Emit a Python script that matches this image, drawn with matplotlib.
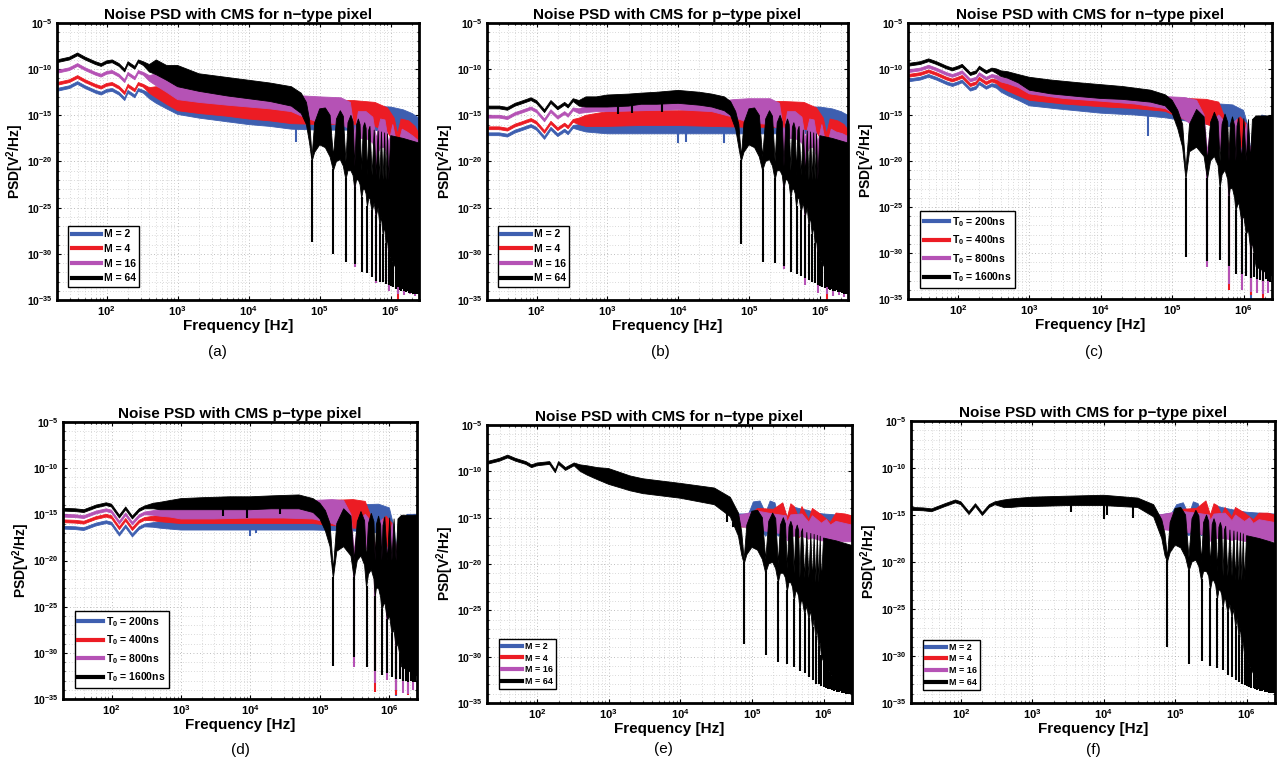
import numpy as np
import matplotlib
matplotlib.use("Agg")
import matplotlib.pyplot as plt
from matplotlib.lines import Line2D
from matplotlib.ticker import FixedLocator, FixedFormatter, NullFormatter

# ---------------- data (PSD values are log10 of V^2/Hz) ----------------
# shared high-frequency envelope of the M = 64 curve (sinc lobes)
M64_HF_F = [7.8e4, 8.5e4, 1.0e5, 1.2e5, 1.4e5, 1.56e5, 1.72e5, 1.95e5, 2.15e5, 2.34e5, 2.5e5, 2.75e5,
            2.95e5, 3.12e5, 3.3e5, 3.5e5, 3.7e5, 3.9e5, 4.1e5, 4.3e5, 4.5e5, 4.69e5, 4.9e5, 5.1e5,
            5.47e5, 5.85e5, 6.25e5, 6.65e5, 7.03e5, 7.4e5, 7.81e5, 8.2e5, 8.59e5, 9e5, 9.37e5,
            1e6, 1.5e6, 2.5e6]
M64_HF_TOP = [-19.5, -15.8, -14.3, -14.2, -15.0, -19.5, -15.4, -14.5, -15.1, -20.0, -15.8, -15.0,
              -15.7, -20.5, -16.0, -15.4, -16.0, -21.0, -16.3, -15.8, -16.4, -21.5, -16.6, -16.2,
              -21.5, -16.6, -21.5, -16.7, -22.0, -16.8, -22.0, -16.9, -22.0, -17.0, -22.0,
              -17.2, -17.5, -18.0]
M64_HF_BOT = [-20.0, -19.0, -18.2, -18.5, -19.5, -21.0, -20.0, -19.8, -20.5, -22.0, -21.0, -21.0,
              -21.5, -23.0, -22.0, -22.0, -22.5, -24.0, -23.0, -23.0, -23.5, -25.0, -24.0, -24.0,
              -25.5, -24.5, -26.0, -25.0, -27.0, -26.0, -28.0, -27.0, -29.0, -28.5, -30.0,
              -30.5, -33.0, -33.8]
# notch frequencies
M64_SF = [7.8e4, 1.56e5, 2.34e5, 3.12e5, 3.9e5, 4.69e5, 5.47e5, 6.25e5, 7.03e5, 7.81e5, 8.59e5,
          9.37e5, 1.02e6, 1.09e6, 1.17e6, 1.25e6, 1.33e6, 1.41e6, 1.48e6, 1.56e6, 1.64e6, 1.72e6,
          1.8e6, 1.87e6, 1.95e6, 2.03e6, 2.11e6, 2.19e6, 2.27e6, 2.34e6, 2.42e6]
M16_SF = [3.12e5, 6.25e5, 9.37e5, 1.25e6, 1.56e6, 1.87e6, 2.19e6]
M4_SF = [1.25e6]

T16_HF_F = [1.4e5, 1.56e5, 1.75e5, 2.2e5, 2.8e5, 3.12e5, 3.45e5, 3.9e5, 4.4e5, 4.69e5, 5.0e5,
            5.5e5, 6.0e5, 6.25e5, 6.5e5, 7e5, 7.5e5, 7.81e5, 8.1e5, 8.6e5, 9.37e5, 1.01e6, 1.09e6,
            1.17e6, 1.25e6, 1.33e6, 1.5e6, 2.5e6]
T16_HF_TOP = [-16.0, -21.0, -16.0, -14.4, -15.2, -20.0, -15.8, -14.7, -15.7, -20.0, -16.0,
              -14.9, -15.8, -20.0, -16.1, -15.2, -16.2, -20.0, -16.2, -15.3, -20.0, -15.4, -20.0,
              -15.5, -20.0, -15.5, -15.1, -15.1]
T16_HF_BOT = [-18.5, -22.0, -19.0, -18.5, -19.5, -22.0, -20.0, -19.5, -20.5, -23.0, -21.5,
              -21.0, -22.0, -24.0, -23.0, -23.0, -24.0, -25.5, -25.0, -24.5, -26.5, -26.0, -28.0,
              -27.5, -29.5, -29.0, -31.5, -32.5]
T16_SF = [1.56e5, 3.12e5, 4.69e5, 6.25e5, 7.81e5, 9.37e5, 1.09e6, 1.25e6, 1.41e6, 1.56e6,
          1.72e6, 1.87e6, 2.03e6, 2.19e6, 2.34e6]
T8_SF = [3.12e5, 6.25e5, 9.37e5, 1.25e6, 1.56e6, 1.87e6, 2.19e6]
T4_SF = [6.25e5, 1.25e6, 1.87e6]

# ---- panel (a): n-type, M ----
A_BLK_F = [20, 30, 39, 50, 70, 84, 100, 120, 150, 180, 200, 250, 280, 330, 400, 500, 700, 1e3,
           2e3, 5e3, 1e4, 2e4, 4e4, 5.5e4, 6.5e4, 7.2e4]
A_BLK_TOP = [-9.0, -8.7, -8.25, -8.7, -9.2, -9.4, -9.1, -9.0, -9.4, -10.0, -9.2, -9.7, -9.0, -9.2,
             -9.5, -9.0, -9.6, -9.6, -10.5, -10.9, -11.2, -11.5, -11.9, -12.6, -13.6, -15.5]
A_BLK_BOT = [-9.3, -9.0, -8.55, -9.0, -9.5, -9.7, -9.4, -9.3, -9.7, -10.3, -9.5, -10.0, -9.3, -9.6,
             -10.3, -10.6, -11.2, -11.9, -12.4, -12.9, -13.2, -13.5, -14.0, -14.8, -16.0, -18.0]
A_BLK_SD = [-28.7, -30.0, -30.9, -31.1, -32.0, -32.1, -32.5, -32.9, -33.0, -33.1, -33.3, -33.4,
            -33.5, -33.6, -33.8, -33.6, -33.9, -34.0, -33.8, -34.0, -34.1, -34.0, -34.2, -34.1,
            -34.2, -34.3, -34.2, -34.4, -34.3, -34.4, -34.4]
A_MAG_F = [20, 30, 39, 50, 70, 84, 100, 120, 150, 180, 200, 250, 280, 330, 400, 500, 700, 1e3, 2e3,
           5e3, 1e4, 2e4, 4e4, 6e4, 1e5, 2e5, 2.7e5, 3.12e5, 3.5e5, 4.5e5, 5.6e5, 6.25e5, 7.2e5,
           8.3e5, 9.37e5, 1.07e6, 1.25e6, 1.45e6, 1.7e6, 2.1e6, 2.5e6]
A_MAG_TOP = [-10.15, -9.85, -9.4, -9.85, -10.35, -10.55, -10.25, -10.15, -10.55, -11.15, -10.35,
             -10.85, -10.15, -10.35, -10.7, -10.5, -11.0, -11.3, -11.8, -12.2, -12.5, -12.7, -12.9,
             -12.9, -13.0, -13.1, -13.6, -17.0, -14.6, -14.6, -15.2, -17.5, -15.4, -15.5, -18.0,
             -16.0, -18.5, -16.5, -16.8, -17.3, -17.8]
A_MAG_BOT = [-10.45, -10.15, -9.7, -10.15, -10.65, -10.85, -10.55, -10.45, -10.85, -11.45, -10.65,
             -11.15, -10.45, -10.65, -11.3, -11.8, -12.5, -13.3, -13.6, -13.9, -14.1, -14.3, -14.6,
             -15.2, -15.8, -16.0, -16.5, -19.0, -17.5, -17.5, -18.0, -19.5, -18.5, -18.5, -20.0,
             -19.0, -20.5, -19.5, -19.5, -19.8, -20.2]
A_MAG_SD = [-31.4, -33.2, -34.0, -34.3, -34.5, -34.4, -34.6]
A_RED_F = [20, 30, 39, 50, 70, 84, 100, 120, 150, 180, 200, 250, 280, 330, 400, 500, 700, 1e3, 2e3,
           5e3, 1e4, 2e4, 4e4, 1e5, 3e5, 6e5, 9e5, 1.12e6, 1.25e6, 1.4e6, 1.8e6, 2.2e6, 2.5e6]
A_RED_TOP = [-11.45, -11.15, -10.7, -11.15, -11.65, -11.85, -11.55, -11.45, -11.85, -12.45, -11.65,
             -12.15, -11.45, -11.65, -12.0, -11.9, -12.3, -12.5, -12.9, -13.2, -13.3, -13.4, -13.5,
             -13.4, -13.4, -13.6, -14.2, -15.3, -17.0, -15.4, -15.6, -16.2, -17.0]
A_RED_BOT = [-11.75, -11.45, -11.0, -11.45, -11.95, -12.15, -11.85, -11.75, -12.15, -12.75, -11.95,
             -12.45, -11.75, -11.95, -12.6, -13.1, -13.8, -14.5, -14.8, -15.1, -15.4, -15.6, -15.9,
             -16.0, -16.0, -16.2, -16.8, -18.0, -19.5, -18.0, -18.5, -19.0, -19.5]
A_RED_SD = [-35.5]
A_BLU_F = [20, 30, 39, 50, 70, 84, 100, 120, 150, 180, 200, 250, 280, 330, 400, 500, 700, 1e3, 2e3,
           5e3, 1e4, 2e4, 4e4, 1e5, 5e5, 1e6, 1.5e6, 2e6, 2.5e6]
A_BLU_TOP = [-12.1, -11.8, -11.35, -11.8, -12.3, -12.5, -12.2, -12.1, -12.5, -13.1, -12.3, -12.8,
             -12.1, -12.3, -12.6, -12.6, -13.0, -13.2, -13.6, -13.9, -14.0, -14.1, -14.2, -14.1,
             -14.0, -14.1, -14.4, -14.8, -15.3]
A_BLU_BOT = [-12.4, -12.1, -11.65, -12.1, -12.6, -12.8, -12.5, -12.4, -12.8, -13.4, -12.6, -13.1,
             -12.4, -12.6, -13.2, -13.7, -14.3, -14.9, -15.3, -15.7, -16.0, -16.2, -16.5, -16.6,
             -16.6, -16.7, -17.0, -17.3, -17.6]
A_BLU_SF = [4.6e4]
A_BLU_SD = [-17.9]

# ---- panel (b): p-type, M ----
B_BLK_F = [20, 30, 39, 50, 60, 84, 100, 130, 160, 200, 250, 280, 330, 400, 500, 700, 1e3, 2e3, 3e3,
           5e3, 1e4, 2e4, 3e4, 4.5e4, 5.5e4, 6.5e4, 7.2e4]
B_BLK_TOP = [-14.0, -14.0, -14.15, -13.7, -13.5, -13.1, -13.4, -14.4, -13.4, -14.1, -13.6, -13.9,
             -13.2, -13.4, -13.0, -13.0, -12.8, -12.7, -12.6, -12.5, -12.3, -12.5, -12.7, -13.0,
             -13.5, -14.6, -16.0]
B_BLK_BOT = [-14.3, -14.3, -14.45, -14.0, -13.8, -13.4, -13.7, -14.7, -13.7, -14.4, -13.9, -14.2,
             -13.5, -14.0, -14.1, -14.1, -14.1, -14.0, -13.8, -13.8, -13.7, -13.9, -14.1, -14.5,
             -15.0, -16.5, -18.5]
B_BLK_SD = [-28.9, -30.9, -31.0, -31.3, -32.0, -32.2, -32.4, -32.6, -32.8, -33.0, -33.2, -33.4,
            -33.5, -33.6, -33.7, -33.6, -33.8, -33.9, -33.8, -34.0, -34.0, -33.9, -34.1, -34.0,
            -34.1, -34.2, -34.1, -34.3, -34.2, -34.3, -34.3]
B_BLK_DF = [1.4e3, 2.2e3, 6e3]
B_BLK_DD = [-14.9, -14.8, -14.6]
B_MAG_F = [20, 30, 39, 50, 60, 84, 100, 130, 160, 200, 250, 280, 330, 400, 500, 700, 1e3, 3e3, 1e4,
           3e4, 6e4, 1e5, 2e5, 2.7e5, 3.12e5, 3.5e5, 4.5e5, 5.6e5, 6.25e5, 7.2e5, 8.3e5, 9.37e5,
           1.07e6, 1.25e6, 1.45e6, 1.7e6, 2.1e6, 2.5e6]
B_MAG_TOP = [-15.0, -15.0, -15.15, -14.7, -14.5, -14.1, -14.4, -15.4, -14.4, -15.1, -14.6, -14.9,
             -14.2, -14.3, -14.0, -13.9, -13.8, -13.6, -13.5, -13.6, -13.3, -13.2, -13.2, -13.7,
             -17.0, -14.6, -14.6, -15.2, -17.5, -15.4, -15.5, -18.0, -16.0, -18.5, -16.5, -16.8,
             -17.0, -17.3]
B_MAG_BOT = [-15.3, -15.3, -15.45, -15.0, -14.8, -14.4, -14.7, -15.7, -14.7, -15.4, -14.9, -15.2,
             -14.5, -14.8, -14.7, -14.6, -14.6, -14.5, -14.4, -14.6, -15.2, -15.8, -16.0, -16.5,
             -19.0, -17.5, -17.5, -18.0, -19.5, -18.5, -18.5, -20.0, -19.0, -20.5, -19.5, -19.5,
             -19.8, -20.2]
B_MAG_SD = [-31.6, -33.4, -34.2, -34.4, -34.6, -34.5, -34.7]
B_RED_F = [20, 30, 39, 50, 60, 84, 100, 130, 160, 200, 250, 280, 330, 400, 500, 700, 1e3, 3e3, 1e4,
           3e4, 1e5, 3e5, 6e5, 9e5, 1.12e6, 1.25e6, 1.4e6, 1.8e6, 2.2e6, 2.5e6]
B_RED_TOP = [-16.25, -16.25, -16.4, -15.95, -15.75, -15.35, -15.65, -16.65, -15.65, -16.35, -15.85,
             -16.15, -15.45, -15.3, -15.0, -14.8, -14.6, -14.5, -14.5, -14.4, -13.6, -13.5, -13.6,
             -14.2, -15.3, -17.0, -15.4, -15.6, -16.0, -16.6]
B_RED_BOT = [-16.55, -16.55, -16.7, -16.25, -16.05, -15.65, -15.95, -16.95, -15.95, -16.65, -16.15,
             -16.45, -15.75, -16.0, -16.2, -16.2, -16.2, -16.1, -16.1, -16.2, -16.3, -16.3, -16.5,
             -16.8, -18.0, -19.5, -18.0, -18.5, -19.0, -19.5]
B_RED_SD = [-35.5]
B_BLU_F = [20, 30, 39, 50, 60, 84, 100, 130, 160, 200, 250, 280, 330, 400, 500, 700, 1e3, 3e3, 1e4,
           3e4, 1e5, 5e5, 1e6, 1.5e6, 2e6, 2.5e6]
B_BLU_TOP = [-16.9, -16.9, -17.05, -16.6, -16.4, -16.0, -16.3, -17.3, -16.3, -17.0, -16.5, -16.8,
             -16.1, -16.0, -15.8, -15.6, -15.4, -15.3, -15.3, -15.2, -14.2, -14.1, -14.1, -14.3,
             -14.6, -15.0]
B_BLU_BOT = [-17.2, -17.2, -17.35, -16.9, -16.7, -16.3, -16.6, -17.6, -16.6, -17.3, -16.8, -17.1,
             -16.4, -16.6, -16.8, -16.9, -17.0, -17.0, -17.0, -17.0, -17.0, -17.0, -17.0, -17.3,
             -17.5, -17.8]
B_BLU_SF = [1.0e4, 1.3e4, 4.5e4]
B_BLU_SD = [-18.0, -17.9, -18.0]

# ---- panel (c): n-type, T0 ----
C_BLK_F = [20, 30, 39, 50, 70, 84, 100, 115, 150, 180, 200, 250, 300, 350, 400, 500, 700, 1e3, 2e3,
           5e3, 1e4, 2e4, 5e4, 8e4, 1.0e5, 1.2e5]
C_BLK_TOP = [-9.4, -9.2, -8.9, -9.2, -9.7, -9.9, -9.7, -9.5, -10.4, -10.2, -9.7, -10.2, -9.9, -10.0,
             -10.2, -10.3, -10.6, -10.9, -11.2, -11.5, -11.7, -11.9, -12.3, -12.8, -13.4, -14.5]
C_BLK_BOT = [-9.7, -9.5, -9.2, -9.5, -10.0, -10.2, -10.0, -9.8, -10.7, -10.5, -10.0, -10.5, -10.2,
             -10.5, -10.8, -11.0, -11.5, -12.3, -12.7, -13.0, -13.2, -13.3, -13.6, -14.0, -14.8,
             -16.5]
C_BLK_SD = [-30.4, -30.9, -30.8, -31.4, -32.3, -32.3, -32.5, -32.7, -32.6, -32.8, -32.9, -33.0,
            -32.8, -33.0, -33.1]
C_MAG_F = [20, 30, 39, 50, 70, 84, 100, 115, 150, 180, 200, 250, 300, 350, 400, 500, 700, 1e3, 3e3,
           1e4, 3e4, 8e4, 1.5e5, 2.2e5, 2.8e5, 3.12e5, 3.5e5, 4.5e5, 5.5e5, 6.25e5, 7e5, 8e5,
           9.37e5, 1.1e6, 1.25e6, 1.4e6, 1.87e6, 2.2e6, 2.5e6]
C_MAG_TOP = [-10.1, -9.9, -9.6, -9.9, -10.4, -10.6, -10.4, -10.2, -11.1, -10.9, -10.4, -10.9, -10.6,
             -10.7, -10.9, -11.0, -11.3, -11.6, -12.0, -12.3, -12.6, -13.0, -13.1, -13.4, -15.0,
             -19.0, -15.8, -15.0, -15.8, -19.0, -16.0, -15.5, -19.0, -16.0, -19.0, -16.0, -19.0,
             -16.0, -16.5]
C_MAG_BOT = [-10.4, -10.2, -9.9, -10.2, -10.7, -10.9, -10.7, -10.5, -11.4, -11.2, -10.7, -11.2,
             -10.9, -11.1, -11.4, -11.6, -12.0, -12.7, -13.2, -13.5, -13.8, -14.3, -15.5, -16.5,
             -18.0, -21.0, -19.0, -18.5, -19.5, -21.0, -20.0, -20.0, -21.0, -20.5, -21.0, -20.5,
             -21.0, -21.0, -21.0]
C_MAG_SD = [-31.5, -33.4, -34.0, -34.2, -34.3, -34.5, -34.3]
C_RED_F = [20, 30, 39, 50, 70, 84, 100, 115, 150, 180, 200, 250, 300, 350, 400, 500, 700, 1e3, 3e3,
           1e4, 3e4, 8e4, 1.5e5, 3e5, 4.5e5, 5.6e5, 6.25e5, 7e5, 9e5, 1.1e6, 1.25e6, 1.45e6, 1.7e6,
           1.87e6, 2.1e6, 2.5e6]
C_RED_TOP = [-10.6, -10.4, -10.1, -10.4, -10.9, -11.1, -10.9, -10.7, -11.6, -11.4, -10.9, -11.4,
             -11.1, -11.2, -11.4, -11.6, -11.9, -12.2, -12.6, -12.9, -13.1, -13.2, -13.2, -13.3,
             -13.6, -15.5, -19.0, -16.0, -15.2, -16.0, -19.0, -16.0, -15.5, -19.0, -16.0, -15.8]
C_RED_BOT = [-10.9, -10.7, -10.4, -10.7, -11.2, -11.4, -11.2, -11.0, -11.9, -11.7, -11.2, -11.7,
             -11.4, -11.6, -12.0, -12.4, -12.9, -13.4, -13.8, -14.1, -14.3, -14.6, -15.5, -16.0,
             -16.5, -18.0, -21.0, -19.0, -18.5, -19.0, -21.0, -19.5, -19.5, -21.0, -20.0, -20.0]
C_RED_SD = [-34.0, -34.6, -35.0]
C_BLU_F = [20, 30, 39, 50, 70, 84, 100, 115, 150, 180, 200, 250, 300, 350, 400, 500, 700, 1e3, 3e3,
           1e4, 3e4, 8e4, 3e5, 7e5, 1e6, 1.18e6, 1.25e6, 1.35e6, 1.8e6, 2.5e6]
C_BLU_TOP = [-11.1, -10.9, -10.6, -10.9, -11.4, -11.6, -11.4, -11.2, -12.1, -11.9, -11.4, -11.9,
             -11.6, -11.7, -11.9, -12.1, -12.4, -12.7, -13.1, -13.4, -13.6, -13.7, -13.7, -13.9,
             -14.5, -16.5, -19.0, -16.5, -15.0, -15.3]
C_BLU_BOT = [-11.4, -11.2, -10.9, -11.2, -11.7, -11.9, -11.7, -11.5, -12.4, -12.2, -11.7, -12.2,
             -11.9, -12.1, -12.5, -12.9, -13.4, -14.0, -14.4, -14.8, -15.0, -15.3, -16.0, -16.3,
             -17.0, -18.5, -21.0, -18.5, -18.0, -18.0]
C_BLU_SF = [4.6e4, 1.25e6]
C_BLU_SD = [-17.3, -35.2]

# ---- panel (d): p-type, T0 ----
D_BLK_F = [20, 30, 40, 60, 84, 100, 130, 160, 200, 250, 300, 400, 500, 700, 1e3, 2e3, 5e3, 1e4, 2e4,
           5e4, 8e4, 1.0e5, 1.2e5]
D_BLK_TOP = [-14.35, -14.4, -14.5, -14.0, -13.75, -13.9, -15.1, -14.2, -15.2, -14.4, -14.1, -13.8,
             -13.7, -13.5, -13.3, -13.2, -13.1, -13.1, -13.0, -12.9, -13.3, -13.8, -14.6]
D_BLK_BOT = [-14.65, -14.7, -14.8, -14.3, -14.05, -14.2, -15.4, -14.5, -15.5, -14.7, -14.4, -14.4,
             -14.5, -14.5, -14.5, -14.5, -14.5, -14.5, -14.4, -14.4, -14.8, -15.5, -16.8]
D_BLK_SD = [-31.4, -30.5, -31.5, -32.0, -32.4, -32.2, -32.6, -32.8, -32.8, -33.0, -33.0, -33.2,
            -33.0, -33.2, -33.2]
D_BLK_DF = [4e3, 9e3, 2.7e4]
D_BLK_DD = [-15.2, -15.4, -15.0]
D_MAG_F = [20, 30, 40, 60, 84, 100, 130, 160, 200, 250, 300, 400, 500, 700, 1e3, 3e3, 1e4, 3e4, 8e4,
           1.5e5, 2.2e5, 2.8e5, 3.12e5, 3.5e5, 4.5e5, 5.5e5, 6.25e5, 7e5, 8e5, 9.37e5, 1.1e6,
           1.25e6, 1.4e6, 1.87e6, 2.2e6, 2.5e6]
D_MAG_TOP = [-15.0, -15.05, -15.15, -14.65, -14.4, -14.55, -15.75, -14.85, -15.85, -15.05, -14.75,
             -14.6, -14.5, -14.4, -14.3, -14.2, -14.1, -14.0, -13.5, -13.4, -13.5, -15.0, -19.0,
             -15.8, -15.0, -15.8, -19.0, -16.0, -15.5, -19.0, -16.0, -19.0, -16.0, -19.0, -16.0,
             -16.3]
D_MAG_BOT = [-15.3, -15.35, -15.45, -14.95, -14.7, -14.85, -16.05, -15.15, -16.15, -15.35, -15.05,
             -15.1, -15.2, -15.3, -15.5, -15.5, -15.4, -15.4, -15.5, -16.0, -16.5, -18.0, -21.0,
             -19.0, -18.5, -19.5, -21.0, -20.0, -20.0, -21.0, -20.5, -21.0, -20.5, -21.0, -21.0,
             -21.0]
D_MAG_SD = [-31.5, -33.3, -32.9, -34.0, -34.3, -34.5, -34.0]
D_RED_F = [20, 30, 40, 60, 84, 100, 130, 160, 200, 250, 300, 400, 500, 700, 1e3, 3e3, 1e4, 3e4, 8e4,
           1.5e5, 3e5, 4.5e5, 5.6e5, 6.25e5, 7e5, 9e5, 1.1e6, 1.25e6, 1.45e6, 1.7e6, 1.87e6, 2.1e6,
           2.5e6]
D_RED_TOP = [-15.6, -15.65, -15.75, -15.25, -15.0, -15.15, -16.35, -15.45, -16.45, -15.65, -15.35,
             -15.2, -15.1, -15.0, -14.9, -14.8, -14.7, -14.7, -14.5, -13.5, -13.4, -13.6, -15.5,
             -19.0, -16.0, -15.2, -16.0, -19.0, -16.0, -15.5, -19.0, -16.0, -15.5]
D_RED_BOT = [-15.9, -15.95, -16.05, -15.55, -15.3, -15.45, -16.65, -15.75, -16.75, -15.95, -15.65,
             -15.7, -15.8, -15.9, -16.0, -16.0, -16.0, -16.0, -16.0, -16.2, -16.5, -16.5, -18.0,
             -21.0, -19.0, -18.5, -19.0, -21.0, -19.5, -19.5, -21.0, -20.0, -20.0]
D_RED_SD = [-34.2, -34.6, -34.6]
D_BLU_F = [20, 30, 40, 60, 84, 100, 130, 160, 200, 250, 300, 400, 500, 700, 1e3, 3e3, 1e4, 3e4, 8e4,
           3e5, 7e5, 1e6, 1.18e6, 1.25e6, 1.35e6, 1.8e6, 2.5e6]
D_BLU_TOP = [-16.3, -16.35, -16.45, -15.95, -15.7, -15.85, -17.05, -16.15, -17.15, -16.35, -16.05,
             -15.9, -15.8, -15.7, -15.6, -15.5, -15.4, -15.4, -15.0, -14.0, -13.9, -14.3, -16.5,
             -19.0, -16.5, -15.0, -15.0]
D_BLU_BOT = [-16.6, -16.65, -16.75, -16.25, -16.0, -16.15, -17.35, -16.45, -17.45, -16.65, -16.35,
             -16.4, -16.5, -16.6, -16.7, -16.7, -16.7, -16.7, -16.7, -16.8, -17.0, -17.0, -18.5,
             -21.0, -18.5, -18.0, -18.0]
D_BLU_SF = [1e4, 1.2e4, 1.25e6]
D_BLU_SD = [-17.4, -17.0, -34.7]

# ---- panel (e): n-type, M ----
E_BLK_F = [20, 30, 39, 50, 70, 84, 100, 150, 180, 200, 250, 330, 400, 500, 700, 1e3, 2e3, 3e3, 1e4,
           3e4, 5e4, 6.5e4, 7.2e4]
E_BLK_TOP = [-8.95, -8.6, -8.25, -8.6, -8.95, -9.3, -9.1, -8.95, -9.85, -8.95, -9.6, -9.1, -9.3,
             -9.4, -9.6, -9.7, -10.5, -10.8, -11.3, -11.8, -12.8, -14.5, -16.5]
E_BLK_BOT = [-9.25, -8.9, -8.55, -8.9, -9.25, -9.6, -9.4, -9.25, -10.15, -9.25, -9.9, -9.4, -10.0,
             -10.4, -10.9, -11.4, -12.1, -12.4, -12.9, -13.6, -14.9, -17.0, -19.0]
E_BLK_SD = [-28.6, -29.8, -30.6, -30.8, -31.1, -31.5, -31.8, -32.2, -32.5, -32.9, -33.0, -33.2,
            -33.3, -33.4, -33.5, -33.5, -33.6, -33.7, -33.6, -33.8, -33.8, -33.7, -33.9, -33.8,
            -33.9, -34.0, -33.9, -34.0, -33.9, -34.0, -34.0]
E_BLK_DF = [4.5e4, 5.5e4]
E_BLK_DD = [-15.5, -16.0]
EF_BLU_F = [6e4, 9e4, 1.05e5, 1.3e5, 1.56e5, 1.8e5, 2.1e5, 2.34e5, 2.7e5, 3.12e5, 3.6e5, 4.5e5, 6e5,
            8e5, 1e6, 1.5e6, 2.5e6]
EF_RED_F = [6e4, 9e4, 1.2e5, 2e5, 2.7e5, 3.12e5, 3.5e5, 3.9e5, 4.5e5, 5e5, 6.25e5, 7e5, 9e5, 1.25e6,
            1.5e6, 2e6, 2.5e6]
EF_MAG_F = [6e4, 1.2e5, 2e5, 3e5, 3.12e5, 3.5e5, 5e5, 6.25e5, 7e5, 9.37e5, 1.1e6, 1.25e6, 1.5e6,
            2.5e6]
E_BLU_TOP = [-14.6, -14.6, -13.3, -13.2, -14.5, -13.2, -13.4, -14.8, -13.5, -15.0, -13.8, -14.0,
             -14.2, -14.5, -14.6, -14.7, -14.8]
E_BLU_BOT = [-16.0, -16.0, -16.0, -16.2, -17.0, -16.3, -16.5, -17.0, -16.6, -17.2, -16.8, -16.9,
             -17.0, -17.0, -17.0, -17.0, -17.0]
E_RED_TOP = [-14.8, -14.8, -14.0, -14.1, -13.4, -15.0, -13.5, -13.8, -15.0, -13.8, -15.2, -14.0,
             -14.6, -15.5, -14.5, -14.6, -14.8]
E_RED_BOT = [-16.0, -16.0, -16.0, -16.3, -16.4, -17.0, -16.5, -16.8, -17.2, -16.8, -17.3, -17.0,
             -17.2, -17.5, -17.3, -17.3, -17.4]
E_MAG_TOP = [-14.8, -14.3, -14.6, -14.8, -15.5, -14.7, -14.6, -15.5, -14.8, -15.6, -15.2, -15.8,
             -15.4, -15.8]
E_MAG_BOT = [-15.8, -16.3, -16.6, -16.8, -17.5, -17.0, -17.0, -17.3, -17.2, -17.5, -17.5, -17.6,
             -17.6, -17.6]

# ---- panel (f): p-type, M ----
F_BLK_F = [20, 30, 39, 60, 84, 100, 130, 160, 200, 250, 300, 400, 500, 700, 1e3, 3e3, 1e4, 3e4, 5e4,
           6.5e4, 7.2e4]
F_BLK_TOP = [-14.2, -14.25, -14.35, -13.8, -13.4, -13.6, -14.65, -13.8, -14.75, -13.9, -13.6, -13.4,
             -13.3, -13.2, -13.1, -13.0, -12.9, -13.2, -13.9, -15.5, -17.0]
F_BLK_BOT = [-14.5, -14.55, -14.65, -14.1, -13.7, -13.9, -14.95, -14.1, -15.05, -14.2, -13.9, -14.2,
             -14.2, -14.1, -14.1, -14.0, -14.0, -14.2, -15.2, -17.5, -19.3]
F_BLK_SD = [-29.0, -30.9, -30.5, -31.1, -31.3, -31.5, -32.0, -32.2, -32.5, -32.8, -33.0, -33.1,
            -33.2, -33.3, -33.4, -33.4, -33.5, -33.6, -33.5, -33.7, -33.7, -33.6, -33.8, -33.7,
            -33.8, -33.9, -33.8, -33.9, -33.8, -33.9, -33.9]
F_BLK_DF = [3.5e3, 1.0e4, 1.1e4, 2.6e4]
F_BLK_DD = [-14.7, -15.4, -15.0, -15.3]
F_BLU_TOP = [-15.0, -14.8, -13.9, -13.7, -15.0, -13.6, -13.8, -15.2, -13.9, -15.3, -14.0, -14.2,
             -14.4, -14.6, -14.7, -14.8, -14.9]
F_BLU_BOT = [-16.5, -16.5, -16.5, -16.6, -17.2, -16.6, -16.8, -17.2, -16.8, -17.3, -17.0, -17.0,
             -17.1, -17.1, -17.1, -17.1, -17.1]
F_RED_TOP = [-15.2, -15.0, -14.4, -14.3, -13.5, -15.0, -13.8, -14.0, -15.0, -14.2, -15.2, -14.2,
             -14.7, -15.5, -14.8, -14.8, -15.0]
F_RED_BOT = [-16.5, -16.5, -16.5, -16.6, -16.6, -17.2, -16.8, -17.0, -17.3, -17.0, -17.5, -17.2,
             -17.3, -17.6, -17.5, -17.5, -17.6]
F_MAG_TOP = [-15.0, -14.6, -14.8, -15.0, -15.6, -14.9, -14.8, -15.6, -15.0, -15.7, -15.3, -15.9,
             -15.5, -15.8]
F_MAG_BOT = [-16.5, -16.8, -17.0, -17.2, -17.8, -17.5, -17.5, -17.7, -17.6, -17.8, -17.8, -17.8,
             -17.8, -17.8]

TITLES = ["Noise PSD with CMS for n\u2212type pixel", "Noise PSD with CMS for p\u2212type pixel",
          "Noise PSD with CMS for n\u2212type pixel", "Noise PSD with CMS p\u2212type pixel",
          "Noise PSD with CMS for n\u2212type pixel", "Noise PSD with CMS for p\u2212type pixel"]
LABELS_M = ["M = 2", "M = 4", "M = 16", "M = 64"]
LABELS_T = [r"T$_\mathbf{0}$ = 200ns", r"T$_\mathbf{0}$ = 400ns",
            r"T$_\mathbf{0}$ = 800ns", r"T$_\mathbf{0}$ = 1600ns"]
CAPTIONS = ["(a)", "(b)", "(c)", "(d)", "(e)", "(f)"]

# ---------------- style ----------------
plt.rcParams['font.family'] = ['Liberation Sans', 'DejaVu Sans']
plt.rcParams['mathtext.fontset'] = 'custom'
plt.rcParams['mathtext.rm'] = 'Liberation Sans'
plt.rcParams['mathtext.bf'] = 'Liberation Sans:bold'
plt.rcParams['mathtext.it'] = 'Liberation Sans:italic'

COL_BLU = '#3e5fb0'
COL_RED = '#ec1c24'
COL_MAG = '#b552b5'
COL_BLK = '#000000'
COLORS = [COL_BLU, COL_RED, COL_MAG, COL_BLK]

W, H = 1280.0, 769.0
# axes boxes in pixels: left, top, right, bottom
BOXES = [(57, 23, 419, 300), (487, 23, 848, 300), (908, 23, 1272, 299),
         (63, 422, 417, 699), (487, 425, 852, 703), (911, 421, 1275, 703)]
CAP_POS = [(217, 352), (660, 352), (1094, 352), (240, 750), (663, 749), (1093, 750)]


def draw_band(ax, F, TOP, BOT, color, z):
    F = np.asarray(F, float)
    TOP = np.asarray(TOP, float)
    BOT = np.asarray(BOT, float)
    assert len(F) == len(TOP) == len(BOT), (len(F), len(TOP), len(BOT))
    xs = np.concatenate([F, F[::-1]])
    ys = 10.0 ** np.concatenate([TOP, BOT[::-1]])
    ax.fill(xs, ys, facecolor=color, edgecolor=color, lw=0.6, joinstyle='round', zorder=z)


def draw_spikes(ax, F, BOT, SF, SD, color, z):
    SF = np.asarray(SF, float)
    SD = np.asarray(SD, float)
    assert len(SF) == len(SD)
    top = np.interp(np.log10(SF), np.log10(np.asarray(F, float)), np.asarray(BOT, float))
    ax.vlines(SF, 10.0 ** SD, 10.0 ** (top + 0.2), colors=color, lw=1.5, zorder=z)


def style_axes(ax, title):
    ax.set_xscale('log')
    ax.set_yscale('log')
    ax.set_xlim(20, 2.5e6)
    ax.set_ylim(1e-35, 1e-5)
    xmaj = [1e2, 1e3, 1e4, 1e5, 1e6]
    xmin = [k * 10.0 ** d for d in range(1, 7) for k in range(2, 10) if 20 <= k * 10.0 ** d <= 2.5e6]
    ymaj = [10.0 ** -e for e in (35, 30, 25, 20, 15, 10, 5)]
    ymin = [10.0 ** -e for e in range(6, 35) if e % 5]
    ax.xaxis.set_major_locator(FixedLocator(xmaj))
    ax.xaxis.set_major_formatter(FixedFormatter([r'$\mathbf{10^{%d}}$' % k for k in range(2, 7)]))
    ax.xaxis.set_minor_locator(FixedLocator(xmin))
    ax.xaxis.set_minor_formatter(NullFormatter())
    ax.yaxis.set_major_locator(FixedLocator(ymaj))
    ax.yaxis.set_major_formatter(FixedFormatter([r'$\mathbf{10^{-%d}}$' % e for e in (35, 30, 25, 20, 15, 10, 5)]))
    ax.yaxis.set_minor_locator(FixedLocator(ymin))
    ax.yaxis.set_minor_formatter(NullFormatter())
    ax.tick_params(axis='x', which='major', labelsize=8, pad=3)
    ax.tick_params(axis='y', which='major', labelsize=7.5, pad=3)
    ax.tick_params(which='both', direction='in', top=True, right=True, width=0.8)
    ax.tick_params(which='major', length=3)
    ax.tick_params(which='minor', length=1.5)
    ax.grid(which='major', ls=(0, (1, 3)), color='#a8a8a8', lw=0.6)
    ax.grid(which='minor', ls=(0, (1, 3)), color='#b8b8b8', lw=0.5)
    ax.set_axisbelow(True)
    for s in ax.spines.values():
        s.set_linewidth(2.0)
        s.set_zorder(30)
    ax.set_title(title, fontsize=11, fontweight='bold', pad=3)
    ax.set_xlabel('Frequency [Hz]', fontsize=11, fontweight='bold', labelpad=1)
    ax.set_ylabel(r'PSD[V$^\mathbf{2}$/Hz]', fontsize=10, fontweight='bold', labelpad=1)


fig = plt.figure(figsize=(12.8, 7.69), dpi=100)
fig.patch.set_facecolor('white')

PANELS = [
    # (a)
    dict(series=[(A_BLU_F, A_BLU_TOP, A_BLU_BOT, [(A_BLU_SF, A_BLU_SD)]),
                 (A_RED_F, A_RED_TOP, A_RED_BOT, [(M4_SF, A_RED_SD)]),
                 (A_MAG_F, A_MAG_TOP, A_MAG_BOT, [(M16_SF, A_MAG_SD)]),
                 (A_BLK_F + M64_HF_F, A_BLK_TOP + M64_HF_TOP, A_BLK_BOT + M64_HF_BOT, [(M64_SF, A_BLK_SD)])],
         labels=LABELS_M, leg=(0.030, 0.047), lsize=7.5),
    # (b)
    dict(series=[(B_BLU_F, B_BLU_TOP, B_BLU_BOT, [(B_BLU_SF, B_BLU_SD)]),
                 (B_RED_F, B_RED_TOP, B_RED_BOT, [(M4_SF, B_RED_SD)]),
                 (B_MAG_F, B_MAG_TOP, B_MAG_BOT, [(M16_SF, B_MAG_SD)]),
                 (B_BLK_F + M64_HF_F, B_BLK_TOP + M64_HF_TOP, B_BLK_BOT + M64_HF_BOT,
                  [(M64_SF, B_BLK_SD), (B_BLK_DF, B_BLK_DD)])],
         labels=LABELS_M, leg=(0.030, 0.047), lsize=7.5),
    # (c)
    dict(series=[(C_BLU_F, C_BLU_TOP, C_BLU_BOT, [(C_BLU_SF, C_BLU_SD)]),
                 (C_RED_F, C_RED_TOP, C_RED_BOT, [(T4_SF, C_RED_SD)]),
                 (C_MAG_F, C_MAG_TOP, C_MAG_BOT, [(T8_SF, C_MAG_SD)]),
                 (C_BLK_F + T16_HF_F, C_BLK_TOP + T16_HF_TOP, C_BLK_BOT + T16_HF_BOT, [(T16_SF, C_BLK_SD)])],
         labels=LABELS_T, leg=(0.033, 0.040), lsize=7.5),
    # (d)
    dict(series=[(D_BLU_F, D_BLU_TOP, D_BLU_BOT, [(D_BLU_SF, D_BLU_SD)]),
                 (D_RED_F, D_RED_TOP, D_RED_BOT, [(T4_SF, D_RED_SD)]),
                 (D_MAG_F, D_MAG_TOP, D_MAG_BOT, [(T8_SF, D_MAG_SD)]),
                 (D_BLK_F + T16_HF_F, D_BLK_TOP + T16_HF_TOP, D_BLK_BOT + T16_HF_BOT,
                  [(T16_SF, D_BLK_SD), (D_BLK_DF, D_BLK_DD)])],
         labels=LABELS_T, leg=(0.033, 0.040), lsize=7.5),
    # (e)
    dict(series=[(EF_BLU_F, E_BLU_TOP, E_BLU_BOT, []),
                 (EF_RED_F, E_RED_TOP, E_RED_BOT, []),
                 (EF_MAG_F, E_MAG_TOP, E_MAG_BOT, []),
                 (E_BLK_F + M64_HF_F, E_BLK_TOP + M64_HF_TOP, E_BLK_BOT + M64_HF_BOT,
                  [(M64_SF, E_BLK_SD), (E_BLK_DF, E_BLK_DD)])],
         labels=LABELS_M, leg=(0.033, 0.050), lsize=6.5),
    # (f)
    dict(series=[(EF_BLU_F, F_BLU_TOP, F_BLU_BOT, []),
                 (EF_RED_F, F_RED_TOP, F_RED_BOT, []),
                 (EF_MAG_F, F_MAG_TOP, F_MAG_BOT, []),
                 (F_BLK_F + M64_HF_F, F_BLK_TOP + M64_HF_TOP, F_BLK_BOT + M64_HF_BOT,
                  [(M64_SF, F_BLK_SD), (F_BLK_DF, F_BLK_DD)])],
         labels=LABELS_M, leg=(0.033, 0.046), lsize=6.5),
]

for i, p in enumerate(PANELS):
    l, t, r, b = BOXES[i]
    ax = fig.add_axes([l / W, 1 - b / H, (r - l) / W, (b - t) / H])
    for k, (F, TOP, BOT, spk) in enumerate(p['series']):
        z = 2 + k
        draw_band(ax, F, TOP, BOT, COLORS[k], z)
        for SF, SD in spk:
            draw_spikes(ax, F, BOT, SF, SD, COLORS[k], z)
    style_axes(ax, TITLES[i])
    handles = [Line2D([], [], color=c, lw=3) for c in COLORS]
    small = p['lsize'] < 7
    is_t = p['labels'] is LABELS_T
    leg = ax.legend(handles, p['labels'], loc='lower left', bbox_to_anchor=p['leg'],
                    prop=dict(weight='bold', size=p['lsize']), frameon=True, fancybox=False,
                    edgecolor='black', framealpha=1,
                    handlelength=2.2 if small else (2.4 if is_t else 2.8),
                    handletextpad=0.3, labelspacing=0.3 if small else 0.45,
                    borderpad=0.35, borderaxespad=0)
    leg.get_frame().set_linewidth(1.0)
    leg.set_zorder(40)
    cx, cy = CAP_POS[i]
    fig.text(cx / W, 1 - cy / H, CAPTIONS[i], ha='center', va='center', fontsize=11)

fig.savefig('out.png', dpi=100, facecolor='white')
